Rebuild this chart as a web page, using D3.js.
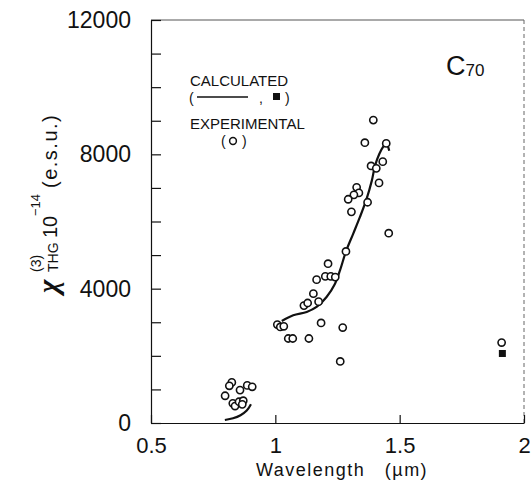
<!DOCTYPE html>
<html>
<head>
<meta charset="utf-8">
<script src="https://cdn.jsdelivr.net/npm/d3@7"></script>
<style>
  body { margin: 0; background: #fff; }
  svg { display: block; }
  text { font-family: "Liberation Sans", Arial, sans-serif; fill: #111; }
</style>
</head>
<body>
<svg id="chart" width="532" height="488"></svg>
<script>
// values (wavelength in um, chi(3) in 1e-14 esu)
const expLow = [
  [0.825, 1209], [0.815, 1108], [0.798, 811], [0.858, 980], [0.887, 1120],
  [0.907, 1078], [0.829, 585], [0.838, 505], [0.854, 633], [0.871, 663], [0.867, 555]
];
const expMain = [
  [1.394, 9020], [1.360, 8346], [1.446, 8325], [1.432, 7782], [1.385, 7654],
  [1.406, 7583], [1.417, 7149], [1.327, 7018], [1.336, 6852], [1.316, 6793],
  [1.293, 6662], [1.371, 6573], [1.306, 6287], [1.456, 5652], [1.284, 5108],
  [1.212, 4743], [1.201, 4366], [1.223, 4366], [1.241, 4345], [1.166, 4268],
  [1.153, 3852], [1.174, 3614], [1.115, 3496], [1.130, 3573], [1.184, 2979],
  [1.271, 2842], [1.008, 2930], [1.020, 2860], [1.034, 2880], [1.052, 2516],
  [1.070, 2516], [1.135, 2516], [1.261, 1833]
];
const expFar = [[1.910, 2396]];
const calcFar = [[1.913, 2070]];

const calcLow = [[0.797, 90], [0.830, 140], [0.860, 230], [0.885, 370], [0.902, 560]];
const calcMain = [
  [1.026, 3038], [1.072, 3208], [1.126, 3306], [1.166, 3455], [1.206, 3752],
  [1.240, 4149], [1.260, 4544], [1.284, 5108], [1.313, 5634], [1.340, 6128],
  [1.367, 6673], [1.388, 7217], [1.401, 7663], [1.418, 8010], [1.434, 8227],
  [1.446, 8325], [1.458, 8108]
];

const xTicks = [0.5, 1, 1.5, 2];
const xTickLabels = ["0.5", "1", "1.5", "2"];
const yTicks = d3.range(0, 12001, 1000);
const yLabelTicks = [0, 4000, 8000, 12000];

const svg = d3.select("#chart");
const mLeft = 151, mRight = 524, mTop = 20, mBottom = 423;

const x = d3.scaleLinear().domain([0.5, 2]).range([mLeft, mRight]);
const y = d3.scaleLinear().domain([0, 12000]).range([mBottom, mTop]);

// frame: top and right edges are faint in the scan
svg.append("line")
    .attr("x1", mLeft).attr("x2", mRight).attr("y1", mTop).attr("y2", mTop)
    .attr("stroke", "#555").attr("stroke-width", 1);
svg.append("line")
    .attr("x1", mRight).attr("x2", mRight).attr("y1", mTop).attr("y2", mBottom)
    .attr("stroke", "#666").attr("stroke-width", 1)
    .attr("stroke-dasharray", "4,3");

// y axis
const yAxis = d3.axisLeft(y)
    .tickValues(yTicks)
    .tickSize(-10)
    .tickSizeOuter(0)
    .tickPadding(20)
    .tickFormat(d => yLabelTicks.includes(d) ? d : "");
const gy = svg.append("g")
    .attr("transform", `translate(${mLeft},0)`)
    .call(yAxis);
gy.selectAll("text").style("font-size", "23px").attr("fill", "#111");
gy.selectAll("line, path").attr("stroke", "#111").attr("stroke-width", 1.2);

// x axis
const xAxis = d3.axisBottom(x)
    .tickValues(xTicks)
    .tickSize(-8)
    .tickSizeOuter(0)
    .tickPadding(14)
    .tickFormat((d, i) => xTickLabels[i]);
const gx = svg.append("g")
    .attr("transform", `translate(0,${mBottom})`)
    .call(xAxis);
gx.selectAll("text").style("font-size", "22px").attr("fill", "#111");
gx.selectAll("line, path").attr("stroke", "#111").attr("stroke-width", 1.2);

// calculated curves
const line = d3.line()
    .x(d => x(d[0]))
    .y(d => y(d[1]))
    .curve(d3.curveCatmullRom);

[calcLow, calcMain].forEach(c => {
  svg.append("path")
      .datum(c)
      .attr("d", line)
      .attr("fill", "none")
      .attr("stroke", "#111")
      .attr("stroke-width", 2.2);
});

// calculated point
svg.selectAll("rect.calc")
    .data(calcFar)
    .enter()
    .append("rect")
    .attr("class", "calc")
    .attr("x", d => x(d[0]) - 3.5)
    .attr("y", d => y(d[1]) - 3.5)
    .attr("width", 7)
    .attr("height", 7)
    .attr("fill", "#111");

// experimental points
svg.selectAll("circle.exp")
    .data(expLow.concat(expMain, expFar))
    .enter()
    .append("circle")
    .attr("class", "exp")
    .attr("cx", d => x(d[0]))
    .attr("cy", d => y(d[1]))
    .attr("r", 3.6)
    .attr("fill", "#fff")
    .attr("stroke", "#111")
    .attr("stroke-width", 1.6);

// legend
const leg = svg.append("g").style("font-size", "15px");
leg.append("text").attr("x", 190).attr("y", 86).text("CALCULATED");
const paren = (px, py, s) => leg.append("text")
    .attr("x", px).attr("y", py).style("font-size", "14px").text(s);
paren(189, 103, "(");
leg.append("line").attr("x1", 197).attr("x2", 248).attr("y1", 97).attr("y2", 97)
    .attr("stroke", "#111").attr("stroke-width", 1.6);
paren(259, 103, ",");
leg.append("rect").attr("x", 273).attr("y", 93).attr("width", 7).attr("height", 7).attr("fill", "#111");
paren(285, 103, ")");
leg.append("text").attr("x", 190).attr("y", 129).text("EXPERIMENTAL");
paren(221, 146, "(");
leg.append("circle").attr("cx", 233).attr("cy", 141).attr("r", 3.4)
    .attr("fill", "#fff").attr("stroke", "#111").attr("stroke-width", 1.5);
paren(242, 146, ")");

// C70 label
const c70 = svg.append("text").attr("x", 446).attr("y", 75).style("font-size", "27px");
c70.append("tspan").text("C");
c70.append("tspan").attr("dy", 1).style("font-size", "17px").text("70");

// x axis title
svg.append("text")
    .attr("x", 342).attr("y", 476)
    .attr("text-anchor", "middle")
    .style("font-size", "18px")
    .style("letter-spacing", "1.5px")
    .style("white-space", "pre")
    .text("Wavelength   (\u00b5m)");

// y axis title, built from pieces in a rotated frame
const yt = svg.append("g").attr("transform", "rotate(-90)");
yt.append("text").attr("x", -293).attr("y", 58)
    .style("font-family", "'Liberation Serif', serif")
    .style("font-style", "italic").style("font-weight", "bold")
    .style("font-size", "29px").text("\u03c7");
yt.append("text").attr("x", -272).attr("y", 41).style("font-size", "14px").text("(3)");
yt.append("text").attr("x", -272).attr("y", 58).style("font-size", "14px").text("THG");
yt.append("text").attr("x", -238).attr("y", 57).style("font-size", "20px").text("10");
yt.append("text").attr("x", -216).attr("y", 40).style("font-size", "13px").text("\u221214");
yt.append("text").attr("x", -188).attr("y", 57).style("font-size", "20px")
    .style("letter-spacing", "1.5px").text("(e.s.u.)");
</script>
</body>
</html>
